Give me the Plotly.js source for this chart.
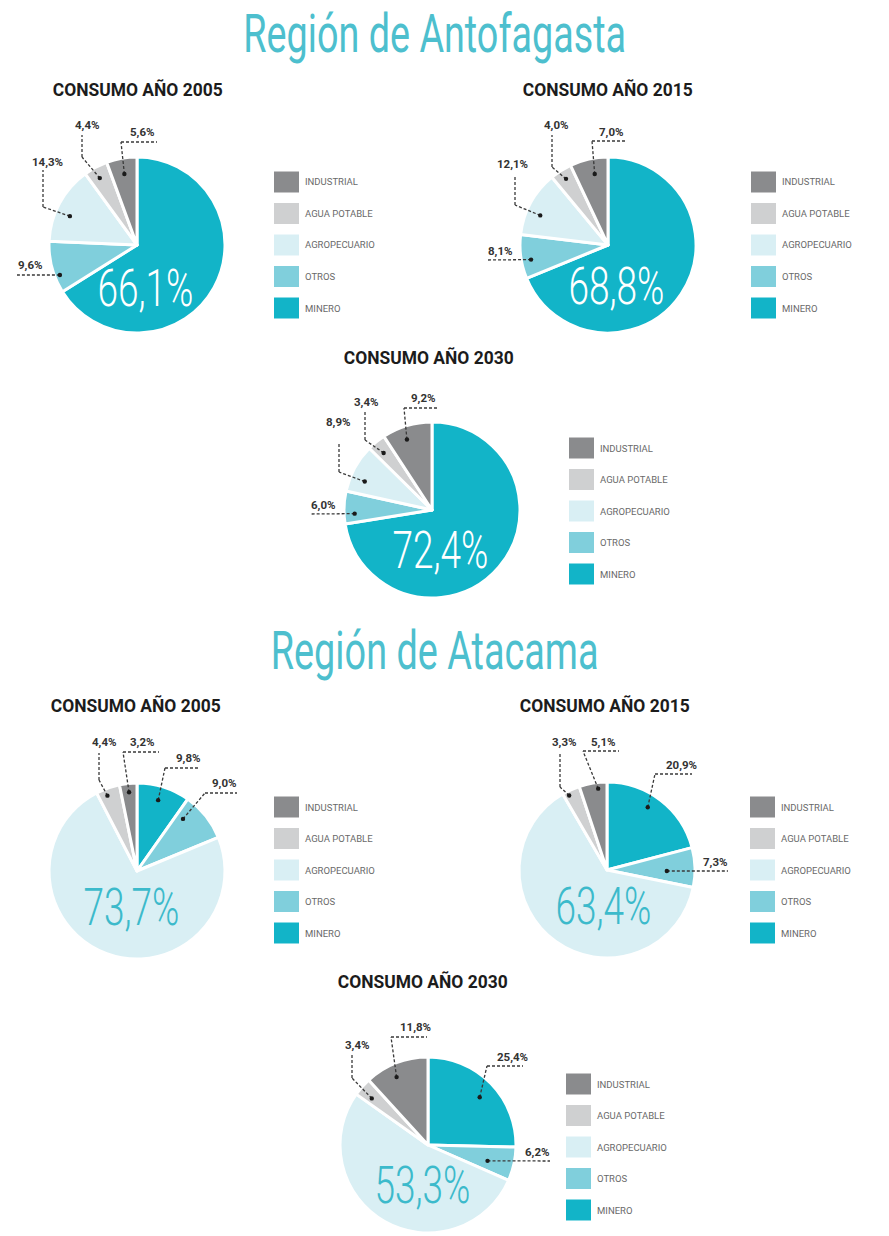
<!DOCTYPE html>
<html><head><meta charset="utf-8">
<script src="https://cdn.plot.ly/plotly-3.0.1.min.js"></script>
<style>html,body{margin:0;padding:0;background:#fff}#chart{width:889px;height:1236px}</style>
</head><body><div id="chart"></div>
<script>
// ---- data ----
const categories = ['MINERO', 'OTROS', 'AGROPECUARIO', 'AGUA POTABLE', 'INDUSTRIAL'];
const legendOrder = ['INDUSTRIAL', 'AGUA POTABLE', 'AGROPECUARIO', 'OTROS', 'MINERO'];
const regionTitles = ['Región de Antofagasta', 'Región de Atacama'];
const years = ['2005', '2015', '2030'];
const antofagasta2005 = [66.1, 9.6, 14.3, 4.4, 5.6];
const antofagasta2015 = [68.8, 8.1, 12.1, 4.0, 7.0];
const antofagasta2030 = [72.4, 6.0, 8.9, 3.4, 9.2];
const atacama2005 = [9.8, 9.0, 73.7, 4.4, 3.2];
const atacama2015 = [20.9, 7.3, 63.4, 3.3, 5.1];
const atacama2030 = [25.4, 6.2, 53.3, 3.4, 11.8];
const colors = ['#12b4c8', '#80cfdc', '#d9eff4', '#cfd0d1', '#8a8b8d'];

// ---- layout constants ----
const W = 889, H = 1236, R = 88;
const px = x => x / W, py = y => 1 - y / H;
const FONT = 'Roboto, sans-serif';
const fmt = v => v.toFixed(1).replace('.', ',') + '%';

const panels = [
  {values: antofagasta2005, year: years[0], cx: 137, cy: 245, head: [137, 90], leg: [274, 182],
   big: {i: 0, at: [145, 288], color: '#ffffff'},
   callouts: [
     {i: 4, k: 0.82, da: 0, path: [[121, 142], [157, 142]], label: [142, 132]},
     {i: 3, k: 0.87, da: -1, path: [[82, 157], [82, 135]], label: [87, 125]},
     {i: 2, k: 0.83, da: -5, path: [[43, 207], [43, 170]], label: [47, 162]},
     {i: 1, k: 0.94, da: -6.5, path: [[17, 275]], label: [30, 265]}
   ]},
  {values: antofagasta2015, year: years[1], cx: 608, cy: 245, head: [607, 90], leg: [751, 182],
   big: {i: 0, at: [616, 287], color: '#ffffff'},
   callouts: [
     {i: 4, k: 0.82, da: 2, path: [[592, 141], [627, 141]], label: [611, 132]},
     {i: 3, k: 0.89, da: 0, path: [[552, 167], [552, 135]], label: [556, 125]},
     {i: 2, k: 0.84, da: -5, path: [[515, 205], [515, 175]], label: [512, 164]},
     {i: 1, k: 0.89, da: -3, path: [[488, 260]], label: [500, 251]}
   ]},
  {values: antofagasta2030, year: years[2], cx: 432, cy: 510, head: [428, 357], leg: [569, 448],
   big: {i: 0, at: [440, 550], color: '#ffffff'},
   callouts: [
     {i: 4, k: 0.85, da: -3, path: [[404, 408], [439, 408]], label: [423, 398]},
     {i: 3, k: 0.85, da: -1, path: [[365, 440], [365, 412]], label: [366, 402]},
     {i: 2, k: 0.83, da: -5.6, path: [[339, 472], [339, 442]], label: [338, 422]},
     {i: 1, k: 0.88, da: -4.4, path: [[310, 514]], label: [323, 505]}
   ]},
  {values: atacama2005, year: years[0], cx: 137, cy: 871, head: [135, 705], leg: [274, 807],
   big: {i: 2, at: [131, 907], color: '#3cbacb'},
   callouts: [
     {i: 4, k: 0.9, da: 0, path: [[123, 752], [159, 752]], label: [142, 742]},
     {i: 3, k: 0.92, da: -2, path: [[99, 780], [99, 753]], label: [104, 742]},
     {i: 0, k: 0.84, da: -1, path: [[165, 768], [200, 768]], label: [188, 758]},
     {i: 1, k: 0.79, da: -10, path: [[205, 793], [237, 793]], label: [224, 783]}
   ]},
  {values: atacama2015, year: years[1], cx: 607, cy: 870, head: [604, 705], leg: [750, 807],
   big: {i: 2, at: [603, 906], color: '#3cbacb'},
   callouts: [
     {i: 4, k: 0.93, da: 3, path: [[583, 751], [619, 751]], label: [603, 742]},
     {i: 3, k: 0.95, da: -2.6, path: [[560, 787], [560, 752]], label: [564, 742]},
     {i: 0, k: 0.85, da: -4.6, path: [[655, 774], [692, 774]], label: [681, 765]},
     {i: 1, k: 0.68, da: 2.6, path: [[728, 871]], label: [715, 862]}
   ]},
  {values: atacama2030, year: years[2], cx: 428, cy: 1145, head: [422, 981], leg: [566, 1084],
   big: {i: 2, at: [422, 1185], color: '#3cbacb'},
   callouts: [
     {i: 4, k: 0.85, da: -3.6, path: [[391, 1037], [427, 1037]], label: [415, 1027]},
     {i: 3, k: 0.83, da: -1.8, path: [[352, 1078], [352, 1055]], label: [357, 1045]},
     {i: 0, k: 0.8, da: 1.6, path: [[487, 1066], [523, 1066]], label: [512, 1057]},
     {i: 1, k: 0.7, da: 2.4, path: [[550, 1161]], label: [537, 1152]}
   ]}
];

const traces = [], shapes = [], annotations = [];
const squeeze = []; // [annotation index, target width in px]

function addAnn(a, targetWidth) {
  annotations.push(Object.assign({xref: 'paper', yref: 'paper', showarrow: false,
    xanchor: 'center', yanchor: 'middle'}, a));
  if (targetWidth) squeeze.push([annotations.length - 1, targetWidth]);
}

// region titles
[[434, 34, 383], [434, 651, 328]].forEach((p, j) => {
  addAnn({text: regionTitles[j], x: px(p[0]), y: py(p[1]),
    font: {family: FONT, size: 53, color: '#4dbfce'}}, p[2]);
});

panels.forEach(p => {
  traces.push({
    type: 'pie', values: p.values, labels: categories, sort: false, direction: 'clockwise', rotation: 0,
    marker: {colors: colors, line: {color: '#ffffff', width: 3}},
    textinfo: 'none', hoverinfo: 'label+percent', showlegend: false,
    domain: {x: [px(p.cx - R), px(p.cx + R)], y: [py(p.cy + R), py(p.cy - R)]}
  });
  // heading
  addAnn({text: '<b>CONSUMO AÑO ' + p.year + '</b>', x: px(p.head[0]), y: py(p.head[1]),
    font: {family: FONT, size: 18, color: '#1c1c1c'}}, 170);
  // big value
  addAnn({text: fmt(p.values[p.big.i]), x: px(p.big.at[0]), y: py(p.big.at[1]),
    font: {family: FONT, size: 52, weight: 300, color: p.big.color}}, 96);
  // callouts
  const total = p.values.reduce((a, b) => a + b, 0);
  const cum = [];
  p.values.reduce((a, v, i) => { cum[i] = a; return a + v; }, 0);
  p.callouts.forEach(c => {
    const mid = (cum[c.i] + p.values[c.i] / 2) / total * 360 + c.da;
    const th = mid * Math.PI / 180;
    const dot = [p.cx + c.k * R * Math.sin(th), p.cy - c.k * R * Math.cos(th)];
    const pts = [dot].concat(c.path);
    for (let s = 0; s < pts.length - 1; s++) {
      shapes.push({type: 'line', xref: 'paper', yref: 'paper', layer: 'above',
        x0: px(pts[s][0]), y0: py(pts[s][1]), x1: px(pts[s + 1][0]), y1: py(pts[s + 1][1]),
        line: {color: '#3a3a3a', width: 1.3, dash: '3px,2px'}});
    }
    shapes.push({type: 'circle', xref: 'paper', yref: 'paper', layer: 'above',
      x0: px(dot[0] - 2.2), x1: px(dot[0] + 2.2), y0: py(dot[1] + 2.2), y1: py(dot[1] - 2.2),
      fillcolor: '#1a1a1a', line: {width: 0}});
    addAnn({text: '<b>' + fmt(p.values[c.i]) + '</b>', x: px(c.label[0]), y: py(c.label[1]),
      font: {family: FONT, size: 11.5, color: '#333333'}});
  });
  // legend
  legendOrder.forEach((name, r) => {
    const yc = p.leg[1] + r * 31.5;
    const col = colors[categories.indexOf(name)];
    shapes.push({type: 'rect', xref: 'paper', yref: 'paper', layer: 'above',
      x0: px(p.leg[0]), x1: px(p.leg[0] + 25), y0: py(yc + 10.5), y1: py(yc - 10.5),
      fillcolor: col, line: {width: 0}});
    addAnn({text: name, x: px(p.leg[0] + 29), y: py(yc), xanchor: 'left',
      font: {family: FONT, size: 9.5, color: '#6a6a6a'}});
  });
});

const layout = {
  width: W, height: H, autosize: false,
  margin: {l: 0, r: 0, t: 0, b: 0, pad: 0},
  paper_bgcolor: '#ffffff', plot_bgcolor: '#ffffff',
  showlegend: false, shapes: shapes, annotations: annotations
};
Plotly.newPlot('chart', traces, layout, {displayModeBar: false, staticPlot: true}).then(gd => {
  // narrow the display font horizontally to mimic the condensed typeface of the original
  squeeze.forEach(([idx, target]) => {
    const g = gd.querySelector('.annotation[data-index="' + idx + '"]');
    if (!g) return;
    const t = g.querySelector('text');
    if (!t) return;
    const bb = t.getBBox();
    if (!bb.width) return;
    const s = Math.min(1, target / bb.width);
    const cx = bb.x + bb.width / 2;
    const prev = t.getAttribute('transform') || '';
    t.setAttribute('transform', prev + ' translate(' + cx + ',0) scale(' + s + ',1) translate(' + (-cx) + ',0)');
  });
});
</script>
</body></html>
